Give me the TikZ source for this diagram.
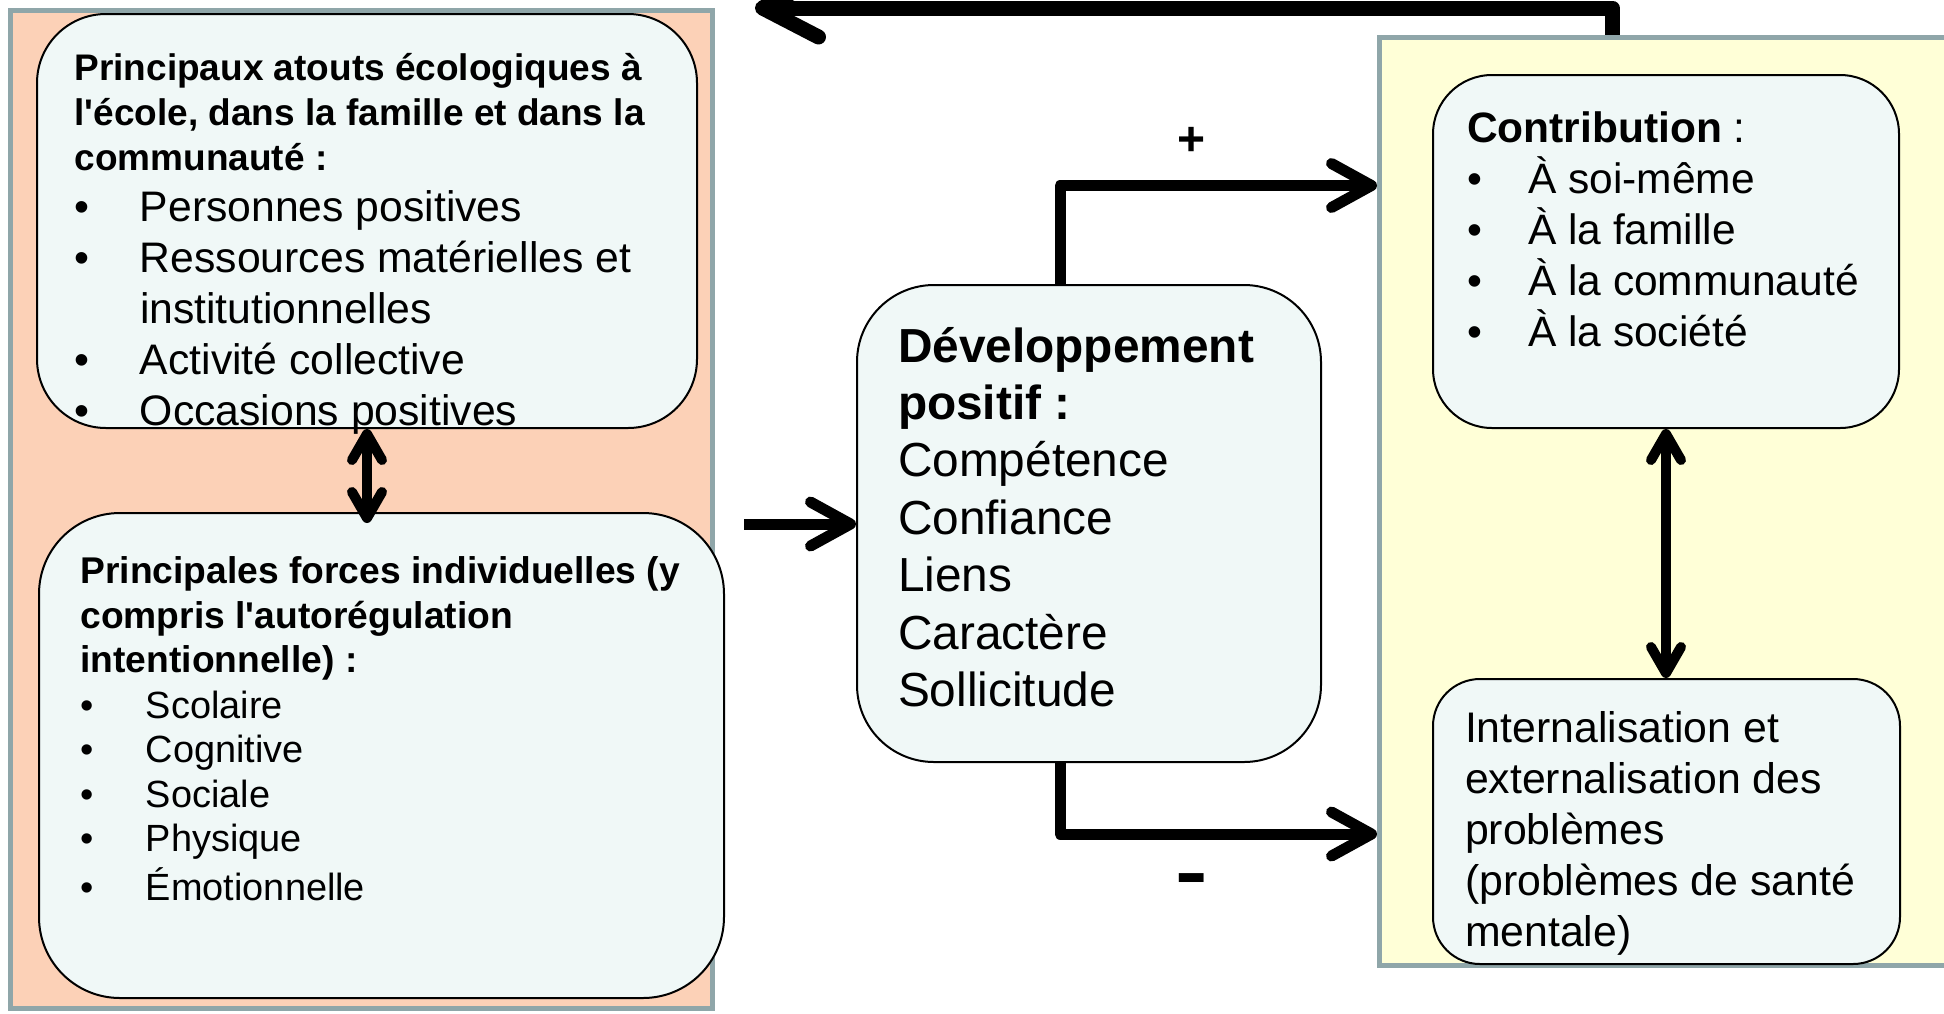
\documentclass[tikz,border=0pt]{standalone}
\usepackage{graphicx}
\usepackage{fontspec}
\setmainfont{Liberation Sans}[Ligatures=TeXOff]
\usetikzlibrary{arrows.meta,calc}

\definecolor{panelgrey}{RGB}{143,166,169}
\definecolor{peach}{RGB}{252,209,183}
\definecolor{paleyellow}{RGB}{255,255,215}
\definecolor{cardfill}{RGB}{240,248,247}

% font size / line distance in one go
\newcommand\fs[2]{\fontsize{#1}{#2}\selectfont}
% one bullet line: bullet, then the item text at a fixed indent
\newcommand\bul[2]{\hbox{\makebox[#1][l]{\textbullet}#2}}

\begin{document}
\begin{tikzpicture}[x=1pt,y=-1pt,
  panel/.style={rectangle, draw=panelgrey, line width=5pt, inner sep=0pt},
  card/.style={rectangle, draw=black, line width=2pt, fill=cardfill,
               rounded corners=#1, inner sep=0pt},
  blocktext/.style={anchor=base west, inner sep=0pt, outer sep=0pt},
  mainarrow/.style={line width=11pt, line join=round,
    -{Straight Barb[length=40pt,width=44pt,round]}},
  looparrow/.style={line width=15pt, line join=round,
    -{Straight Barb[length=56pt,width=58pt,round]}},
  linkarrow/.style={line width=10pt,
    {Straight Barb[length=26pt,width=30pt,round]}-{Straight Barb[length=26pt,width=30pt,round]}},
  sign/.style={inner sep=0pt, outer sep=0pt}
]
\useasboundingbox (0,0) rectangle (1944,1013);

% background panels
\node[panel, fill=peach, minimum width=701.5pt, minimum height=997.5pt] (lpanel) at (361.25,509.25) {};
\node[panel, fill=paleyellow, minimum width=630.5pt, minimum height=928pt] (rpanel) at (1694.75,501) {};

% rounded cards
\node[card=69pt, minimum width=660pt, minimum height=414pt] (assets)  at (367,221)    {};
\node[card=81pt, minimum width=685pt, minimum height=485pt] (forces)  at (381.5,755.5) {};
\node[card=77pt, minimum width=464pt, minimum height=477pt] (devpos)  at (1089,523.5) {};
\node[card=59pt, minimum width=466pt, minimum height=353pt] (contrib) at (1666,251.5) {};
\node[card=47pt, minimum width=467pt, minimum height=285pt] (probs)   at (1666.5,821.5) {};

% card contents
\node[blocktext] (assetstxt) at (74.5,80.5) {\vtop{\lineskiplimit=-1000pt
  \fs{37}{45}\bfseries
  \hbox{Principaux atouts écologiques à}
  \hbox{l'école, dans la famille et dans la}
  \hbox{communauté :}
  \fs{42.7}{51}\mdseries
  \bul{65.5pt}{Personnes positives}
  \bul{65.5pt}{Ressources matérielles et}
  \hbox{\hspace{65.5pt}institutionnelles}
  \bul{65.5pt}{Activité collective}
  \bul{65.5pt}{Occasions positives}}};

\node[blocktext] (forcestxt) at (80.5,583.5) {\vtop{\lineskiplimit=-1000pt
  \fs{37.2}{44.6}\bfseries
  \hbox{Principales forces individuelles (y}
  \hbox{compris l'autorégulation}
  \hbox{intentionnelle) :}
  \fs{37.9}{45.3}\mdseries
  \bul{65.5pt}{Scolaire}
  \baselineskip=44.6pt
  \bul{65.5pt}{Cognitive}
  \bul{65.5pt}{Sociale}
  \bul{65.5pt}{Physique}
  \baselineskip=48.5pt
  \bul{65.5pt}{Émotionnelle}}};

\node[blocktext] (devpostxt) at (898,362) {\vtop{\lineskiplimit=-1000pt
  \fs{47.8}{57.4}\bfseries
  \hbox{Développement}
  \hbox{positif :}
  \mdseries
  \hbox{Compétence}
  \hbox{Confiance}
  \hbox{Liens}
  \hbox{Caractère}
  \hbox{Sollicitude}}};

\node[blocktext] (contribtxt) at (1467,142) {\vtop{\lineskiplimit=-1000pt
  \fs{42.5}{51}
  \hbox{\textbf{Contribution} :}
  \bul{61pt}{À soi-même}
  \bul{61pt}{À la famille}
  \bul{61pt}{À la communauté}
  \bul{61pt}{À la société}}};

\node[blocktext] (probstxt) at (1465,742) {\vtop{\lineskiplimit=-1000pt
  \fs{42.8}{51.2}
  \hbox{Internalisation et}
  \hbox{externalisation des}
  \hbox{problèmes}
  \hbox{(problèmes de santé}
  \hbox{mentale)}}};

% signs on the two outgoing branches
\node[sign] (plus)  at (1192,141) {\fs{48}{48}\bfseries +};
\node[sign] (minus) at (1192,886) {\scalebox{1.3}[1]{\fs{75}{75}\bfseries -}};

% connectors
\coordinate (feed) at (744,524);
\draw[mainarrow] (feed) -- (devpos.west |- feed);

\coordinate (plusbend) at (1060,185.5);
\draw[mainarrow] (devpos.north -| plusbend) |- (rpanel.west |- plusbend);

\coordinate (minusbend) at (1060,834);
\draw[mainarrow] (devpos.south -| minusbend) |- (rpanel.west |- minusbend);

\coordinate (loopturn) at (1612.5,8);
\coordinate (loopend) at (755,8);
\draw[looparrow] (rpanel.north -| loopturn) -- (loopturn) -- (loopend);

\draw[linkarrow, shorten >=-11pt] (assets.south) -- (forces.north -| assets.south);
\draw[linkarrow] (contrib.south) -- (probs.north -| contrib.south);
\end{tikzpicture}
\end{document}
